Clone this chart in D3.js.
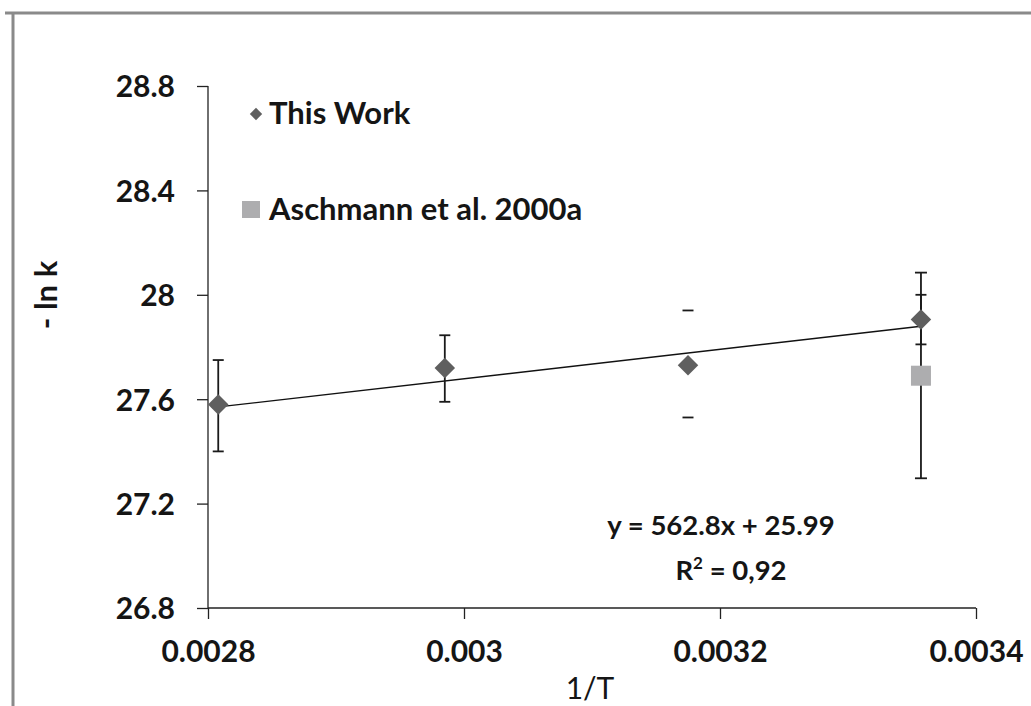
<!DOCTYPE html>
<html>
<head>
<meta charset="utf-8">
<script src="https://cdn.jsdelivr.net/npm/d3@7"></script>
<style>
html,body{margin:0;padding:0;background:#fff;}
svg{display:block;}
text{font-family:Lato, "Open Sans", sans-serif;fill:#151515;}
</style>
</head>
<body>
<svg id="chart" width="1031" height="706"></svg>
<script>
// ---- data ----
const xTicks = [0.0028, 0.003, 0.0032, 0.0034];
const xTickLabels = ["0.0028", "0.003", "0.0032", "0.0034"];
const yTicks = [26.8, 27.2, 27.6, 28, 28.4, 28.8];
const yTickLabels = ["26.8", "27.2", "27.6", "28", "28.4", "28.8"];

const thisWorkX = [0.002808, 0.002985, 0.003175, 0.003357];
const thisWorkY = [27.58, 27.72, 27.73, 27.905];
const thisWorkErrLow = [27.40, 27.59, 27.53, 27.81];
const thisWorkErrHigh = [27.75, 27.845, 27.94, 28.00];
const thisWorkStem = [true, true, false, true];

const aschX = [0.003357];
const aschY = [27.69];
const aschErrLow = [27.297];
const aschErrHigh = [28.085];

const fitSlope = 562.8;
const fitIntercept = 25.99;

const seriesNames = ["This Work", "Aschmann et al. 2000a"];
const xTitle = "1/T";
const yTitle = "- ln k";
const eqText = "y = 562.8x + 25.99";

// ---- drawing ----
const svg = d3.select("#chart");
const x = d3.scaleLinear().domain([0.0028, 0.0034]).range([208, 976]);
const y = d3.scaleLinear().domain([26.8, 28.8]).range([608, 86]);

// frame
svg.append("line").attr("x1", 5).attr("x2", 1031).attr("y1", 13).attr("y2", 13)
  .attr("stroke", "#8a8a8a").attr("stroke-width", 3);
svg.append("line").attr("x1", 13).attr("x2", 13).attr("y1", 12).attr("y2", 706)
  .attr("stroke", "#8a8a8a").attr("stroke-width", 3);

// axes
const xAxis = d3.axisBottom(x).tickValues(xTicks).tickSize(11)
  .tickFormat((d, i) => xTickLabels[i]);
const gx = svg.append("g").attr("transform", `translate(0,${y(26.8)})`).call(xAxis);
gx.select(".domain").attr("stroke", "#222").attr("stroke-width", 1.3).attr("d", `M${x(0.0028)},0H${x(0.0034)}`);
gx.selectAll(".tick line").attr("stroke", "#222").attr("stroke-width", 1.3);
gx.selectAll(".tick text").attr("font-size", 30).attr("font-weight", "bold")
  .attr("y", 33).attr("dy", "0.71em").attr("fill", "#151515")
  .style("font-family", "Lato, sans-serif");

const yAxis = d3.axisLeft(y).tickValues(yTicks).tickSize(11)
  .tickFormat((d, i) => yTickLabels[i]);
const gy = svg.append("g").attr("transform", `translate(${x(0.0028)},0)`).call(yAxis);
gy.select(".domain").attr("stroke", "#222").attr("stroke-width", 1.3).attr("d", `M0,${y(28.8)}V${y(26.8)}`);
gy.selectAll(".tick line").attr("stroke", "#222").attr("stroke-width", 1.3);
gy.selectAll(".tick text").attr("font-size", 30).attr("font-weight", "bold")
  .attr("x", -33).attr("dy", "0.36em").attr("fill", "#151515")
  .style("font-family", "Lato, sans-serif");

// axis titles
svg.append("text").attr("x", 590).attr("y", 699).attr("text-anchor", "middle")
  .attr("font-size", 30).attr("font-weight", "normal").text(xTitle);
svg.append("text").attr("transform", "translate(57,295) rotate(-90)")
  .attr("text-anchor", "middle").attr("font-size", 31).attr("font-weight", "bold").text(yTitle);

// trend line
const fx0 = d3.min(thisWorkX) - 0.000005, fx1 = d3.max(thisWorkX);
svg.append("line")
  .attr("x1", x(fx0)).attr("y1", y(fitSlope * fx0 + fitIntercept))
  .attr("x2", x(fx1)).attr("y2", y(fitSlope * fx1 + fitIntercept))
  .attr("stroke", "#111").attr("stroke-width", 1.4);

// error bars
function errorBars(xs, lo, hi, stems, capW) {
  xs.forEach((xv, i) => {
    const g = svg.append("g").attr("stroke", "#1a1a1a").attr("stroke-width", 1.8);
    if (stems[i]) g.append("line").attr("x1", x(xv)).attr("x2", x(xv)).attr("y1", y(lo[i])).attr("y2", y(hi[i]));
    [lo[i], hi[i]].forEach(v => g.append("line").attr("x1", x(xv) - capW).attr("x2", x(xv) + capW)
      .attr("y1", y(v)).attr("y2", y(v)));
  });
}
errorBars(aschX, aschErrLow, aschErrHigh, [true], 6);
errorBars(thisWorkX, thisWorkErrLow, thisWorkErrHigh, thisWorkStem, 5.5);

// markers
svg.selectAll(".tw").data(thisWorkX).enter().append("path")
  .attr("d", d3.symbol().type(d3.symbolSquare).size(210)())
  .attr("transform", (d, i) => `translate(${x(d)},${y(thisWorkY[i])}) rotate(45)`)
  .attr("fill", "#5f5f5f");
svg.selectAll(".as").data(aschX).enter().append("rect")
  .attr("x", d => x(d) - 10).attr("y", (d, i) => y(aschY[i]) - 10)
  .attr("width", 20).attr("height", 20).attr("fill", "#adadaf");

// legend
svg.append("path").attr("d", d3.symbol().type(d3.symbolSquare).size(76)())
  .attr("transform", "translate(256,114) rotate(45)").attr("fill", "#5f5f5f");
svg.append("text").attr("x", 269).attr("y", 124).attr("font-size", 31).attr("font-weight", "bold").text(seriesNames[0]);
svg.append("rect").attr("x", 242).attr("y", 201).attr("width", 18).attr("height", 17).attr("fill", "#adadaf");
svg.append("text").attr("x", 269).attr("y", 220).attr("font-size", 31).attr("font-weight", "bold").text(seriesNames[1]);

// equation
svg.append("text").attr("x", 721).attr("y", 535).attr("text-anchor", "middle")
  .attr("font-size", 27.5).attr("font-weight", "bold").text(eqText);
const r2 = svg.append("text").attr("x", 731).attr("y", 580).attr("text-anchor", "middle")
  .attr("font-size", 27.5).attr("font-weight", "bold");
r2.append("tspan").text("R");
r2.append("tspan").attr("font-size", 17).attr("dy", -11).text("2");
r2.append("tspan").attr("dy", 11).text(" = 0,92");
</script>
</body>
</html>
